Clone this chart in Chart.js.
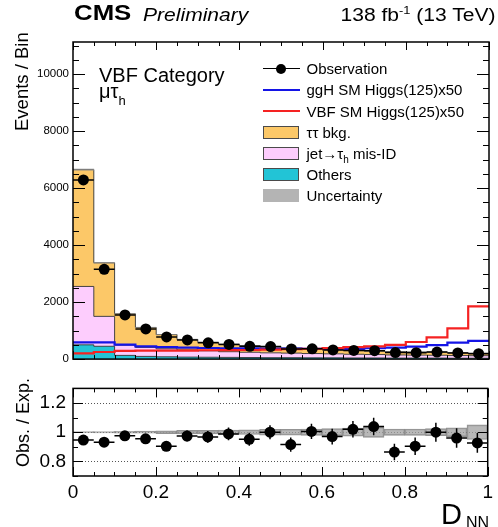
<!DOCTYPE html>
<html><head><meta charset="utf-8">
<script src="https://cdn.jsdelivr.net/npm/chart.js@4/dist/chart.umd.min.js"></script>
<style>
html,body{margin:0;padding:0;background:#fff}
body{width:498px;height:527px;overflow:hidden;position:relative;font-family:"Liberation Sans",Arial,Helvetica,sans-serif}
canvas{position:absolute;left:0}
#c1{top:0}
#c2{top:370px}
.t{position:absolute;white-space:nowrap;color:#000;line-height:1}
.lt{position:absolute;left:306.5px;font-size:15px;line-height:1;white-space:nowrap;color:#000}
.sym{position:absolute}
.box{position:absolute;left:263px;width:36px;height:13px;box-sizing:border-box;border:1px solid #4a4a4a}
.sub{font-size:10px;position:relative;top:4px}
.rot{position:absolute;transform:rotate(-90deg);transform-origin:left top;white-space:nowrap;line-height:1;color:#000}
</style></head><body>
<canvas id="c1" width="498" height="370"></canvas>
<canvas id="c2" width="498" height="157"></canvas>

<div class="t" style="left:74px;top:3px;font-size:21.5px;font-weight:bold;transform:scaleX(1.2);transform-origin:left top">CMS</div>
<div class="t" style="left:143px;top:5.5px;font-size:18px;font-style:italic;transform:scaleX(1.17);transform-origin:left top">Preliminary</div>
<div class="t" style="right:2px;top:5.5px;font-size:18px;transform:scaleX(1.17);transform-origin:right top">138 fb<span style="font-size:11px;position:relative;top:-7px">-1</span> (13 TeV)</div>

<div class="rot" style="left:13px;top:131px;font-size:18.5px">Events / Bin</div>
<div class="rot" style="left:14px;top:467px;font-size:18px">Obs. / Exp.</div>

<div class="t" style="left:99px;top:64.8px;font-size:20px">VBF Category</div>
<div class="t" style="left:99px;top:81px;font-size:20px">μτ<span style="font-size:13px;position:relative;top:7px">h</span></div>

<div class="t" style="left:441px;top:499.5px;font-size:29px">D</div>
<div class="t" style="left:466px;top:514.5px;font-size:16px">NN</div>

<!-- legend -->
<div class="sym" style="left:263px;top:68px;width:37px;height:1px;background:#000"></div>
<div class="sym" style="left:276px;top:63.5px;width:10px;height:10px;border-radius:50%;background:#000"></div>
<div class="lt" style="top:61.1px">Observation</div>
<div class="sym" style="left:263px;top:88.7px;width:37px;height:2px;background:#1414e6"></div>
<div class="lt" style="top:82.3px">ggH SM Higgs(125)x50</div>
<div class="sym" style="left:263px;top:109.9px;width:37px;height:2px;background:#f52222"></div>
<div class="lt" style="top:103.5px">VBF SM Higgs(125)x50</div>
<div class="box" style="top:125.6px;background:#fcc868"></div>
<div class="lt" style="top:124.7px">ττ bkg.</div>
<div class="box" style="top:146.8px;background:#fdcdfd"></div>
<div class="lt" style="top:145.9px">jet→τ<span class="sub">h</span> mis-ID</div>
<div class="box" style="top:168px;background:#22c4d6"></div>
<div class="lt" style="top:167.1px">Others</div>
<div class="box" style="top:189.2px;background:#b4b4b4;border:none"></div>
<div class="lt" style="top:188.3px">Uncertainty</div>

<script>
// ---- data ----
const binEdges   = [0,0.05,0.1,0.15,0.2,0.25,0.3,0.35,0.4,0.45,0.5,0.55,0.6,0.65,0.7,0.75,0.8,0.85,0.9,0.95,1];
const binCenters = [0.025,0.075,0.125,0.175,0.225,0.275,0.325,0.375,0.425,0.475,0.525,0.575,0.625,0.675,0.725,0.775,0.825,0.875,0.925,0.975];
const others = [500,450,130,95,80,70,65,60,55,50,50,45,45,40,40,35,35,35,30,30];
const misID  = [2050,1050,360,315,280,250,225,200,185,170,160,150,140,130,120,110,105,100,95,90];
const tautau = [4100,1880,1100,700,500,370,300,260,230,220,180,165,145,130,125,120,110,110,100,85];
const obs    = [6290,3150,1550,1060,777,672,571,514,447,440,357,362,320,306,296,229,226,245,216,190];
const obsErr = [79,56,39,33,28,26,24,23,21,21,19,19,18,17,17,15,15,16,15,14];
const ggH    = [590,590,510,450,420,400,390,380,375,370,365,360,355,355,380,400,436,492,575,640];
const vbf    = [200,250,290,300,300,300,310,315,320,330,345,360,385,420,445,500,600,760,1080,1850];
const relUnc = [0.004,0.005,0.006,0.007,0.01,0.012,0.012,0.014,0.016,0.02,0.02,0.022,0.024,0.028,0.035,0.022,0.022,0.024,0.03,0.05];
const xTickValues = [0,0.2,0.4,0.6,0.8,1];
const yTickValues = [0,2000,4000,6000,8000,10000];
const ratioTickValues = [0.8,1,1.2];

// ---- derived ----
const total = binCenters.map((_,i)=>others[i]+misID[i]+tautau[i]);
const ratio = obs.map((v,i)=>v/total[i]);
const ratioErr = obsErr.map((e,i)=>e/total[i]);
const FONT = '"Liberation Sans", Arial, sans-serif';

function frameTicks(xMinor,xMajor,yMinor,yMajor,xLen,yLen){
  return {id:'frameTicks',afterDatasetsDraw(chart){
    const {ctx,chartArea:a,scales}=chart; const xs=scales.x, ys=scales.y;
    ctx.save(); ctx.strokeStyle='#000'; ctx.lineWidth=1; ctx.beginPath();
    const isMaj=(v,m)=>Math.abs(v/m-Math.round(v/m))<1e-6;
    let n=Math.round((xs.max-xs.min)/xMinor);
    for(let k=0;k<=n;k++){const v=xs.min+k*xMinor;const px=Math.round(xs.getPixelForValue(v))+0.5;const L=isMaj(v,xMajor)?xLen[0]:xLen[1];
      ctx.moveTo(px,a.bottom);ctx.lineTo(px,a.bottom-L);ctx.moveTo(px,a.top);ctx.lineTo(px,a.top+L);}
    n=Math.round((ys.max-ys.min)/yMinor+1e-9);
    for(let k=0;k<=n;k++){const v=ys.min+k*yMinor; if(v>ys.max+1e-9)break; const py=Math.round(ys.getPixelForValue(v))+0.5;const L=isMaj(v,yMajor)?yLen[0]:yLen[1];
      ctx.moveTo(a.left,py);ctx.lineTo(a.left+L,py);ctx.moveTo(a.right,py);ctx.lineTo(a.right-L,py);}
    ctx.stroke();
    ctx.lineWidth=1.5; ctx.strokeRect(a.left,a.top,a.right-a.left,a.bottom-a.top);
    ctx.restore();
  }};
}
function errBars(vals,errs){
  return {id:'errBars',afterDatasetsDraw(chart){
    const {ctx}=chart; const xs=chart.scales.x, ys=chart.scales.y;
    ctx.save(); ctx.strokeStyle='#000'; ctx.lineWidth=1.5; ctx.beginPath();
    vals.forEach((v,i)=>{
      const yc=ys.getPixelForValue(v), xc=xs.getPixelForValue(binCenters[i]);
      ctx.moveTo(xs.getPixelForValue(binEdges[i]),yc); ctx.lineTo(xs.getPixelForValue(binEdges[i+1]),yc);
      ctx.moveTo(xc,ys.getPixelForValue(v-errs[i])); ctx.lineTo(xc,ys.getPixelForValue(v+errs[i]));
    });
    ctx.stroke(); ctx.restore();
  }};
}
const ratioGrid={id:'ratioGrid',beforeDatasetsDraw(chart){
  const {ctx,chartArea:a}=chart; const ys=chart.scales.y;
  ctx.save(); ctx.strokeStyle='#555'; ctx.lineWidth=1; ctx.setLineDash([1,2]); ctx.beginPath();
  ratioTickValues.forEach(v=>{const py=Math.round(ys.getPixelForValue(v))+0.5; ctx.moveTo(a.left,py); ctx.lineTo(a.right,py);});
  ctx.stroke(); ctx.restore();
}};

const pts=(arr)=>binCenters.map((x,i)=>({x,y:arr[i]}));
const steps=(arr)=>binEdges.map((x,i)=>({x,y:arr[Math.min(i,arr.length-1)]}));
const edgeColor='rgba(50,50,50,0.9)';

new Chart(document.getElementById('c1'),{
  type:'line',
  data:{datasets:[
    {label:'Others',data:steps(others),stepped:true,backgroundColor:'#22c4d6',borderColor:edgeColor,borderWidth:1,pointRadius:0,fill:'origin',stack:'bkg',order:10},
    {label:'jet→τh mis-ID',data:steps(misID),stepped:true,backgroundColor:'#fdcdfd',borderColor:edgeColor,borderWidth:1,pointRadius:0,fill:'-1',stack:'bkg',order:11},
    {label:'ττ bkg.',data:steps(tautau),stepped:true,backgroundColor:'#fcc868',borderColor:edgeColor,borderWidth:1,pointRadius:0,fill:'-1',stack:'bkg',order:12},
    {type:'bar',label:'Uncertainty',data:binCenters.map((x,i)=>({x,y:[total[i]*(1-relUnc[i]),total[i]*(1+relUnc[i])]})),backgroundColor:'rgba(150,150,150,0.6)',borderWidth:0,stack:'unc',grouped:false,barPercentage:1,categoryPercentage:1,order:3},
    {label:'ggH SM Higgs(125)x50',data:steps(ggH),stepped:true,borderColor:'#1414e6',borderWidth:2.2,pointRadius:0,fill:false,stack:'ggh',order:2},
    {label:'VBF SM Higgs(125)x50',data:steps(vbf),stepped:true,borderColor:'#f52222',borderWidth:2.2,pointRadius:0,fill:false,stack:'vbf',order:1},
    {type:'scatter',label:'Observation',data:pts(obs),pointRadius:5.5,pointBackgroundColor:'#000',pointBorderColor:'#000',pointBorderWidth:0,stack:'obs',order:0}
  ]},
  options:{
    responsive:false,animation:false,devicePixelRatio:1,
    layout:{padding:{top:42,right:9,bottom:4,left:0},autoPadding:false},
    plugins:{legend:{display:false},tooltip:{enabled:false}},
    scales:{
      x:{type:'linear',min:0,max:1,offset:false,stacked:true,
         ticks:{display:false,stepSize:0.2},grid:{display:false,drawTicks:false},border:{display:false},
         afterFit:s=>{s.height=0;}},
      y:{type:'linear',min:0,max:11130,stacked:true,
         grid:{display:false,drawTicks:false},border:{display:false},
         ticks:{padding:4,color:'#000',font:{family:FONT,size:11.5},callback:v=>String(v)},
         afterBuildTicks:s=>{s.ticks=yTickValues.map(v=>({value:v}));},
         afterFit:s=>{s.width=73;}}
    }
  },
  plugins:[frameTicks(0.05,0.2,500,2000,[8,4],[12,6]),errBars(obs,obsErr)]
});

new Chart(document.getElementById('c2'),{
  type:'bar',
  data:{datasets:[
    {type:'scatter',label:'Obs. / Exp.',data:pts(ratio),pointRadius:5.5,pointBackgroundColor:'#000',pointBorderColor:'#000',pointBorderWidth:0,order:0},
    {label:'Uncertainty',data:binCenters.map((x,i)=>({x,y:[1-relUnc[i],1+relUnc[i]]})),backgroundColor:'rgba(160,160,160,0.75)',borderColor:'rgba(120,120,120,0.8)',borderWidth:1,borderSkipped:false,grouped:false,barPercentage:1,categoryPercentage:1,order:1}
  ]},
  options:{
    responsive:false,animation:false,devicePixelRatio:1,
    layout:{padding:{top:14,right:9,bottom:11,left:0},autoPadding:false},
    plugins:{legend:{display:false},tooltip:{enabled:false}},
    scales:{
      x:{type:'linear',min:0,max:1,offset:false,
         grid:{display:false,drawTicks:false},border:{display:false},
         ticks:{padding:5,color:'#000',font:{family:FONT,size:19},maxRotation:0,callback:v=>String(+v.toFixed(2))},
         afterBuildTicks:s=>{s.ticks=xTickValues.map(v=>({value:v}));},
         afterFit:s=>{s.height=40;}},
      y:{type:'linear',min:0.7,max:1.3,
         grid:{display:false,drawTicks:false},border:{display:false},
         ticks:{padding:7,color:'#000',font:{family:FONT,size:19},callback:v=>String(+v.toFixed(2))},
         afterBuildTicks:s=>{s.ticks=ratioTickValues.map(v=>({value:v}));},
         afterFit:s=>{s.width=73;}}
    }
  },
  plugins:[ratioGrid,frameTicks(0.05,0.2,0.1,0.2,[9,4],[10,5]),errBars(ratio,ratioErr)]
});
</script>
</body></html>
